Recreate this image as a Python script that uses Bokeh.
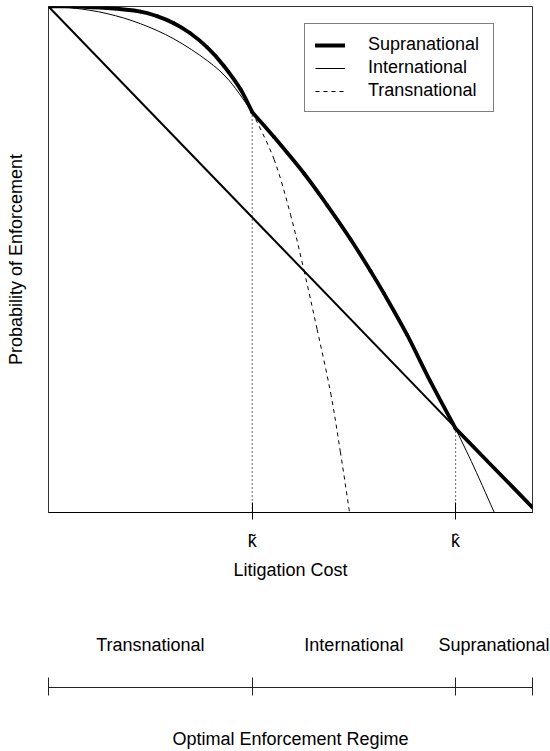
from bokeh.plotting import figure
from bokeh.layouts import column
from bokeh.models import Range1d, LinearAxis, FixedTicker, Legend, LegendItem
from bokeh.embed import file_html
from bokeh.resources import INLINE

FONT = "Liberation Sans"

# ---- data (x = litigation cost, y = probability of enforcement, both on a 0..1 scale) ----
k_ticks = [0.421, 0.841]
k_labels = ["k\u0303", "k\u0302"]
k_probs = [0.791, 0.166]

diag_x = [0.0, 1.0]
diag_y = [1.0, 0.01]

supra_x = [0.0, 0.052, 0.121, 0.19, 0.224, 0.259, 0.293, 0.328, 0.362, 0.397, 0.421,
           0.466, 0.528, 0.576, 0.624, 0.665, 0.693, 0.741, 0.789, 0.841, 1.0]
supra_y = [1.0, 1.0, 0.997, 0.990, 0.981, 0.967, 0.947, 0.919, 0.883, 0.836, 0.791,
           0.742, 0.670, 0.607, 0.540, 0.478, 0.433, 0.351, 0.259, 0.166, 0.01]

intl_x = [0.0, 0.052, 0.121, 0.19, 0.259, 0.328, 0.374, 0.421,
          0.466, 0.528, 0.576, 0.624, 0.665, 0.693, 0.741, 0.789, 0.841, 0.879, 0.921]
intl_y = [1.0, 0.997, 0.986, 0.966, 0.936, 0.893, 0.853, 0.791,
          0.742, 0.670, 0.607, 0.540, 0.478, 0.433, 0.351, 0.259, 0.166, 0.090, 0.0]

trans_x = [0.421, 0.466, 0.5, 0.528, 0.555, 0.583, 0.603, 0.622]
trans_y = [0.791, 0.698, 0.589, 0.478, 0.362, 0.236, 0.120, 0.0]

regime_bounds = [0.0, 0.421, 0.841, 1.0]
regime_names = ["Transnational", "International", "Supranational"]

# ---- main chart ----
p = figure(width=550, height=590, x_range=Range1d(0, 1), y_range=Range1d(0, 1),
           output_backend="svg", toolbar_location=None,
           x_axis_location=None, y_axis_location=None,
           min_border_left=48, min_border_right=18, min_border_top=6, min_border_bottom=78)
p.grid.visible = False
p.outline_line_color = "#333333"
p.outline_line_width = 1
p.background_fill_color = "white"
p.border_fill_color = "white"


def smooth(xs, ys, **kw):
    """Smooth curve through the read points: one cubic Bezier per interval
    (Catmull-Rom tangents), drawn with Bokeh's bezier glyph."""
    n = len(xs)
    if n < 3:
        return p.line(xs, ys, **kw)
    x0, y0, x1, y1, cx0, cy0, cx1, cy1 = [], [], [], [], [], [], [], []
    for i in range(n - 1):
        xa_, ya_ = xs[max(i - 1, 0)], ys[max(i - 1, 0)]
        xb, yb = xs[i], ys[i]
        xc, yc = xs[i + 1], ys[i + 1]
        xd, yd = xs[min(i + 2, n - 1)], ys[min(i + 2, n - 1)]
        x0.append(xb); y0.append(yb); x1.append(xc); y1.append(yc)
        cx0.append(xb + (xc - xa_) / 6); cy0.append(yb + (yc - ya_) / 6)
        cx1.append(xc - (xd - xb) / 6); cy1.append(yc - (yd - yb) / 6)
    return p.bezier(x0=x0, y0=y0, x1=x1, y1=y1, cx0=cx0, cy0=cy0, cx1=cx1, cy1=cy1, **kw)


def split_at(xs, ys, cuts):
    pieces, start = [], 0
    for c in cuts:
        i = xs.index(c)
        pieces.append((xs[start:i + 1], ys[start:i + 1]))
        start = i
    pieces.append((xs[start:], ys[start:]))
    return pieces


thin = dict(line_color="black", line_width=1)
dash = dict(line_color="black", line_width=1, line_dash="4 4")
thick = dict(line_color="black", line_width=3.8, line_cap="round", line_join="round")

p.line(diag_x, diag_y, line_color="black", line_width=2)

intl_r = []
for xs, ys in split_at(intl_x, intl_y, k_ticks):
    intl_r.append(smooth(xs, ys, **thin))
r_trans = smooth(trans_x, trans_y, **dash)
supra_r = []
for xs, ys in split_at(supra_x, supra_y, k_ticks):
    supra_r.append(smooth(xs, ys, **thick))

p.segment(x0=k_ticks, y0=[0, 0], x1=k_ticks, y1=k_probs, line_color="black",
          line_width=1.2, line_dash="1 3")

xa = LinearAxis(ticker=FixedTicker(ticks=k_ticks),
                major_label_overrides=dict(zip(k_ticks, k_labels)),
                axis_label="Litigation Cost",
                axis_line_color="black", major_tick_line_color="black",
                major_tick_in=10, major_tick_out=7, minor_tick_line_color=None,
                major_label_standoff=11, axis_label_standoff=6,
                major_label_text_font=FONT, major_label_text_font_size="18px",
                major_label_text_color="black",
                axis_label_text_font=FONT, axis_label_text_font_size="18px",
                axis_label_text_font_style="normal", axis_label_text_color="black")
p.add_layout(xa, "below")

ya = LinearAxis(ticker=FixedTicker(ticks=[]), axis_label="Probability of Enforcement",
                axis_line_color=None, major_tick_in=0, major_tick_out=0,
                minor_tick_line_color=None, major_label_standoff=0,
                axis_label_standoff=23,
                axis_label_text_font=FONT, axis_label_text_font_size="18px",
                axis_label_text_font_style="normal", axis_label_text_color="black")
p.add_layout(ya, "left")

legend = Legend(items=[LegendItem(label="Supranational", renderers=[supra_r[-1]]),
                       LegendItem(label="International", renderers=[intl_r[-1]]),
                       LegendItem(label="Transnational", renderers=[r_trans])],
                location=(256, 400), orientation="vertical",
                label_text_font=FONT, label_text_font_size="18px", label_text_color="black",
                glyph_width=30, glyph_height=20, label_height=20, label_standoff=23,
                label_width=115, padding=10, spacing=2, margin=0,
                border_line_color="black", border_line_width=1,
                background_fill_color="white", background_fill_alpha=1.0)
p.add_layout(legend, "center")

# ---- regime strip ----
mids = [(regime_bounds[i] + regime_bounds[i + 1]) / 2 for i in range(len(regime_names))]

p2 = figure(width=550, height=161, x_range=p.x_range, y_range=Range1d(0, 1),
            output_backend="svg", toolbar_location=None,
            x_axis_location=None, y_axis_location=None,
            min_border_left=48, min_border_right=18, min_border_top=70, min_border_bottom=64)
p2.grid.visible = False
p2.outline_line_color = None
p2.background_fill_color = "white"
p2.border_fill_color = "white"

top_axis = LinearAxis(ticker=FixedTicker(ticks=mids),
                      major_label_overrides=dict(zip(mids, regime_names)),
                      axis_line_color=None, major_tick_line_color=None,
                      major_tick_in=0, major_tick_out=0, minor_tick_line_color=None,
                      major_label_standoff=6,
                      major_label_text_font=FONT, major_label_text_font_size="18px",
                      major_label_text_color="black")
p2.add_layout(top_axis, "above")

bot_axis = LinearAxis(ticker=FixedTicker(ticks=regime_bounds),
                      axis_line_color="#222222", major_tick_line_color="#222222",
                      major_tick_in=10, major_tick_out=8, minor_tick_line_color=None,
                      major_label_text_font_size="1px", major_label_text_color=None,
                      major_label_standoff=0,
                      axis_label="Optimal Enforcement Regime", axis_label_standoff=33,
                      axis_label_text_font=FONT, axis_label_text_font_size="18px",
                      axis_label_text_font_style="normal", axis_label_text_color="black")
p2.add_layout(bot_axis, "below")

layout = column(p, p2, spacing=0)
open("out.html", "w").write(file_html(layout, INLINE))
